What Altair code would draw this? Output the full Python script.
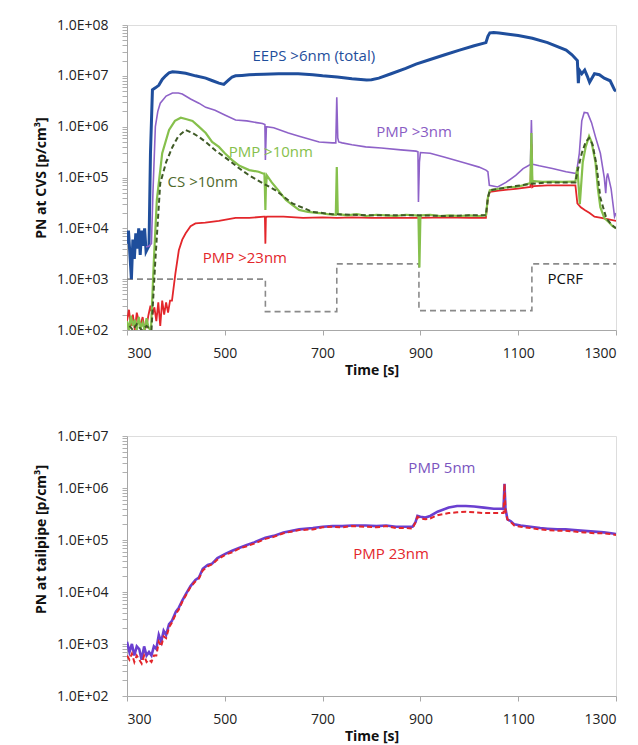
import altair as alt
import pandas as pd

# ---------------- top panel data (PN at CVS) ----------------
eeps_t = [300,303,306,309,312,315,318,321,324,327,330,333,336,339,342,345,348,352,358,365,
          372,379,386,393,405,420,440,461,475,488,498,508,515,522,535,550,580,610,650,680,
          700,730,760,790,800,815,840,870,891,920,950,980,1010,1034,1038,1042,1050,1061,1080,1100,
          1129,1160,1198,1210,1221,1223,1225,1230,1236,1241,1246,1256,1266,1276,1288,1297,1300]
eeps_v = [5e3,9e3,3e3,1e3,6e3,2.5e3,8e3,4e3,1e4,3e3,9e3,4.5e3,1e4,3.5e3,4e3,4.5e3,3e5,5.3e6,5.8e6,6.5e6,
          8.5e6,1e7,1.15e7,1.2e7,1.18e7,1.12e7,1e7,9e6,8e6,7.2e6,6.8e6,8.3e6,9.5e6,1e7,1.02e7,1.05e7,1.08e7,1.1e7,1.1e7,1.05e7,
          1.0e7,9.5e6,8.8e6,8.3e6,8.4e6,9e6,1.1e7,1.4e7,1.7e7,2.1e7,2.6e7,3.2e7,3.9e7,4.5e7,6e7,7e7,7.1e7,6.95e7,6.6e7,6.2e7,
          5.5e7,4.5e7,3.2e7,2.6e7,2e7,7.2e6,1.3e7,1.1e7,1.3e7,1e7,7.5e6,1.1e7,1.05e7,9e6,8e6,5.3e6,5e6]

pmp3_t = [339,345,350,353,358,363,368,380,393,405,413,430,447,461,480,500,522,545,565,577,
          582,583,585,600,630,652,693,720,727,729,731,733,740,760,788,820,860,891,895,896,
          898,900,920,950,993,1020,1034,1038,1041,1058,1075,1095,1110,1125,1127,1129,1132,1143,1170,1198,
          1219,1225,1230,1235,1242,1250,1258,1268,1276,1279,1281,1283,1290,1297,1300]
pmp3_v = [4.3e3,4.5e3,5e3,4.9e4,1e6,2e6,2.9e6,4e6,4.6e6,4.6e6,4.4e6,3.5e6,2.9e6,2.4e6,2.1e6,1.7e6,1.35e6,1.3e6,1.2e6,1.15e6,
          1.1e6,2.2e5,1e6,9.5e5,7.5e5,6.5e5,5e5,4.8e5,4.8e5,3.8e6,6e5,5e5,4.8e5,4.4e5,4e5,3.8e5,3.5e5,3.3e5,3.2e5,3.3e4,
          2e5,3.1e5,3e5,2.5e5,1.9e5,1.6e5,1.4e5,1.3e5,7e4,6.5e4,8e4,1.1e5,1.5e5,1.8e5,1.35e6,1.8e5,1.8e5,1.7e5,1.5e5,1.3e5,
          1.2e5,3e5,1.3e6,1.9e6,1.85e6,1.2e6,6.3e5,3e5,1e5,4.9e4,1e5,1.2e5,6e4,1.7e4,2e4]

pmp10_t = [300,304,308,312,316,320,324,328,332,336,340,344,349,355,361,372,386,398,410,422,
           434,447,461,474,488,500,515,530,550,569,578,581,582,583,584,586,596,610,625,640,
           652,670,693,710,727,729,731,733,750,770,790,810,830,850,870,890,896,898,900,902,
           920,940,960,980,1000,1020,1034,1038,1042,1060,1080,1095,1110,1125,1127,1129,1132,1150,1170,1190,
           1210,1217,1221,1226,1232,1238,1245,1250,1258,1263,1268,1276,1286,1293,1300]
pmp10_v = [1.5e2,1e2,1.9e2,1.2e2,1.6e2,1e2,1.8e2,1.1e2,1.4e2,1e2,1.7e2,1.1e2,1e2,2.4e3,3.6e4,3e5,8.6e5,1.3e6,1.5e6,1.4e6,
           1.3e6,1e6,7.5e5,5e5,4e5,3e5,2.2e5,1.7e5,1.4e5,1.3e5,1.2e5,1.2e5,6e4,2.3e4,6e4,1.1e5,8e4,5.5e4,3.6e4,2.8e4,
           2.3e4,2.1e4,2e4,1.9e4,1.85e4,1.6e5,2e4,1.9e4,1.8e4,1.9e4,1.75e4,1.85e4,1.8e4,1.75e4,1.85e4,1.8e4,1.75e4,1.7e3,1.7e4,1.8e4,
           1.85e4,1.75e4,1.8e4,1.75e4,1.8e4,1.75e4,1.8e4,4e4,5.6e4,6e4,6.5e4,6.5e4,7e4,7.8e4,7.5e5,8e4,8.5e4,8.2e4,8.3e4,8.2e4,
           8.3e4,8.3e4,1.6e5,3e4,2e5,4e5,6.5e5,5e5,2e5,6e4,2.6e4,1.6e4,1.3e4,1.1e4,1e4]

cs10_t = [305,312,320,330,340,350,358,368,380,393,405,420,434,447,461,481,508,530,550,577,
          604,638,680,720,760,800,850,900,950,1000,1034,1038,1042,1060,1095,1125,1160,1200,1217,1221,
          1230,1238,1245,1252,1260,1268,1280,1290,1300]
cs10_v = [1.2e2,1e2,1.3e2,1e2,1.2e2,1e2,2.4e3,7.7e4,2e5,4e5,6.5e5,8.6e5,7.5e5,6.3e5,5e5,3.4e5,2.2e5,1.5e5,1.1e5,7.8e4,
          5.6e4,3.1e4,2.1e4,1.9e4,1.85e4,1.8e4,1.8e4,1.8e4,1.75e4,1.8e4,1.8e4,4e4,5.6e4,6e4,6.8e4,7.5e4,8e4,8e4,8e4,1.3e5,
          3e5,5e5,6e5,4.5e5,1.8e5,4e4,1.6e4,1.2e4,1e4]

pmp23_t = [300,304,308,312,316,320,324,328,332,336,340,344,348,352,356,360,364,368,372,376,
           380,384,388,392,399,406,413,420,430,440,460,488,522,550,580,582,583,584,586,620,
           660,700,730,760,800,850,900,950,1000,1034,1038,1042,1060,1095,1125,1127,1129,1132,1160,1200,
           1217,1221,1228,1236,1246,1256,1270,1285,1300]
pmp23_v = [1.5e2,2.5e2,1.2e2,2e2,1e2,2.2e2,1.5e2,1.3e2,1.8e2,1e2,1.2e2,2e2,3e2,2e2,2.8e2,1.5e2,3.5e2,1.2e2,3.8e2,2e2,
           3.5e2,2.2e2,3.8e2,3.8e2,1.3e3,3.7e3,6e3,8e3,1.1e4,1.25e4,1.3e4,1.4e4,1.6e4,1.6e4,1.7e4,1.7e4,5e3,1.6e4,1.7e4,1.7e4,
           1.6e4,1.65e4,1.6e4,1.65e4,1.6e4,1.6e4,1.6e4,1.65e4,1.6e4,1.6e4,4e4,5.2e4,5.5e4,6e4,6.5e4,4.5e5,6.5e4,6.8e4,7e4,7e4,
           7e4,3.1e4,2.6e4,2.3e4,2e4,1.7e4,1.6e4,1.5e4,1.4e4]

pcrf_t = [300,583,583,729,729,897,897,1128,1128,1300]
pcrf_v = [1e3,1e3,2.3e2,2.3e2,2e3,2e3,2.4e2,2.4e2,2e3,2e3]

top_labels = ["EEPS >6nm (total)", "PMP >3nm", "PMP >10nm", "CS >10nm", "PMP >23nm", "PCRF"]
top_label_t = [682, 887, 594, 455, 541, 1196]
top_label_v = [2.45e7, 7.8e5, 3.2e5, 8.1e4, 2.6e3, 1.0e3]
top_label_c = ["#1f4e9c", "#8a5cc4", "#86c04c", "#4f6a2c", "#e3262b", "#111111"]

# ---------------- bottom panel data (PN at tailpipe) ----------------
tp_t = [300,305,310,315,320,325,330,335,340,345,350,355,360,365,370,375,380,386,392,400,
        406,413,420,430,440,447,455,465,474,485,501,515,529,545,560,583,600,620,652,680,
        700,720,740,760,788,810,830,850,870,884,890,894,900,910,920,935,958,975,993,1010,
        1030,1050,1065,1070,1072,1074,1078,1085,1092,1105,1125,1145,1160,1180,1197,1215,1235,1255,1275,1290,1300]
pmp5_v = [1.1e3,7e2,1e3,6e2,9e2,8e2,5e2,9e2,6e2,7e2,6e2,9e2,8e2,1.5e3,1.1e3,1.8e3,1.5e3,2.4e3,2.8e3,4.2e3,
          5e3,6.8e3,9e3,1.3e4,1.7e4,1.9e4,2.8e4,3.3e4,3.5e4,4.5e4,5.4e4,6.2e4,7e4,8e4,9e4,1.1e5,1.2e5,1.4e5,1.6e5,1.7e5,
          1.8e5,1.85e5,1.85e5,1.9e5,1.9e5,1.85e5,1.9e5,1.8e5,1.8e5,1.8e5,2.2e5,2.9e5,2.8e5,2.7e5,2.9e5,3.5e5,4.2e5,4.5e5,4.5e5,4.4e5,
          4.2e5,4e5,4e5,4e5,1.2e6,4e5,2.5e5,2.3e5,2e5,1.9e5,1.8e5,1.7e5,1.65e5,1.6e5,1.6e5,1.55e5,1.5e5,1.45e5,1.4e5,1.35e5,1.3e5]
pmp23tp_v = [6e2,5e2,6.5e2,4.5e2,6e2,5e2,4.2e2,6e2,4.5e2,5e2,4.5e2,6e2,6e2,1.1e3,9e2,1.4e3,1.3e3,2.1e3,2.6e3,3.8e3,
             4.6e3,6.5e3,8.5e3,1.25e4,1.6e4,1.8e4,2.6e4,3.1e4,3.4e4,4.2e4,5.2e4,5.8e4,6.8e4,7.6e4,8.5e4,1.05e5,1.15e5,1.35e5,1.55e5,1.6e5,
             1.75e5,1.8e5,1.75e5,1.85e5,1.8e5,1.75e5,1.85e5,1.7e5,1.7e5,1.65e5,2.2e5,2.8e5,2.6e5,2.5e5,2.6e5,3e5,3.3e5,3.4e5,3.5e5,3.4e5,
             3.3e5,3.3e5,3.3e5,3.3e5,1.2e6,3.5e5,2.5e5,2.2e5,1.9e5,1.8e5,1.7e5,1.6e5,1.55e5,1.5e5,1.5e5,1.45e5,1.4e5,1.35e5,1.35e5,1.3e5,1.25e5]

bot_labels = ["PMP 5nm", "PMP 23nm"]
bot_label_t = [944, 840]
bot_label_v = [2.4e6, 5.4e4]
bot_label_c = ["#7a55c0", "#e3262b"]

x_ticks = [300, 500, 700, 900, 1100, 1300]

FONT = "Open Sans"


def series(t, v):
    return pd.DataFrame({"t": t, "v": v, "i": list(range(len(t)))})


def minor_ticks(lo, hi):
    vals = []
    for e in range(lo, hi):
        for m in range(1, 10):
            vals.append(float(m) * 10 ** e)
    vals.append(10.0 ** hi)
    return vals


label_expr = ("abs(log(datum.value)/LN10 - round(log(datum.value)/LN10)) < 0.001 ? "
              "'1.0E+0' + round(log(datum.value)/LN10) : ''")

xenc = alt.X("t:Q", scale=alt.Scale(domain=[300, 1300], nice=False),
             axis=alt.Axis(values=x_ticks, format="d", title="Time [s]", grid=False, tickSize=5,
                           labelFontSize=14, labelPadding=11, titleFontSize=14,
                           titleFontWeight="bold", titlePadding=3, labelColor="#222",
                           titleColor="#111", domainColor="#a8a8a8", tickColor="#a8a8a8",
                           labelFont=FONT, titleFont=FONT))


def yenc(lo, hi, title, title_y=None):
    ax = dict(values=minor_ticks(lo, hi), labelExpr=label_expr, title=title, grid=False,
              tickSize=5, labelOverlap=False, labelFontSize=14, labelPadding=14,
              titleFontSize=14, titleFontWeight="bold", titlePadding=8, labelColor="#222",
              titleColor="#111", domainColor="#a8a8a8", tickColor="#b0b0b0",
              labelFont=FONT, titleFont=FONT)
    if title_y is not None:
        ax["titleY"] = title_y
    return alt.Y("v:Q", scale=alt.Scale(type="log", domain=[10.0 ** lo, 10.0 ** hi], nice=False),
                 axis=alt.Axis(**ax))


def line(df, color, width, dash=None, y=None):
    kw = dict(color=color, strokeWidth=width, clip=True)
    if dash:
        kw["strokeDash"] = dash
    return alt.Chart(df).mark_line(**kw).encode(x=xenc, y=y, order="i:Q")


ytop = yenc(2, 8, "PN at CVS [p/cm³]")
top_layers = [
    line(series(pcrf_t, pcrf_v), "#8a8a8a", 1.6, [6, 4], ytop),
    line(series(eeps_t, eeps_v), "#1f4e9c", 3, None, ytop),
    line(series(pmp3_t, pmp3_v), "#8e62c8", 1.6, None, ytop),
    line(series(pmp23_t, pmp23_v), "#e3262b", 1.8, None, ytop),
    line(series(pmp10_t, pmp10_v), "#86c04c", 2.2, None, ytop),
    line(series(cs10_t, cs10_v), "#3f5a26", 2, [5, 3], ytop),
]
top_text = alt.Chart(pd.DataFrame({"t": top_label_t, "v": top_label_v, "s": top_labels,
                                    "c": top_label_c})).mark_text(
    font=FONT, fontSize=15, align="center", baseline="middle").encode(
    x=xenc, y=ytop, text="s:N", color=alt.Color("c:N", scale=None))
top = alt.layer(*top_layers, top_text).properties(width=489, height=305)

ybot = yenc(2, 7, "PN at tailpipe [p/cm³]", title_y=103)
bot_layers = [
    line(series(tp_t, pmp5_v), "#6a3fd0", 2.6, None, ybot),
    line(series(tp_t, pmp23tp_v), "#e3262b", 2, [5, 3], ybot),
]
bot_text = alt.Chart(pd.DataFrame({"t": bot_label_t, "v": bot_label_v, "s": bot_labels,
                                    "c": bot_label_c})).mark_text(
    font=FONT, fontSize=15, align="center", baseline="middle").encode(
    x=xenc, y=ybot, text="s:N", color=alt.Color("c:N", scale=None))
bottom = alt.layer(*bot_layers, bot_text).properties(width=489, height=260)

chart = alt.vconcat(top, bottom, spacing=50).properties(
    padding={"left": 26, "top": 9, "right": 10, "bottom": 5}
).configure_view(stroke=None).configure(background="white")

chart.save("out.html", embed_options={"renderer": "svg", "actions": False})
